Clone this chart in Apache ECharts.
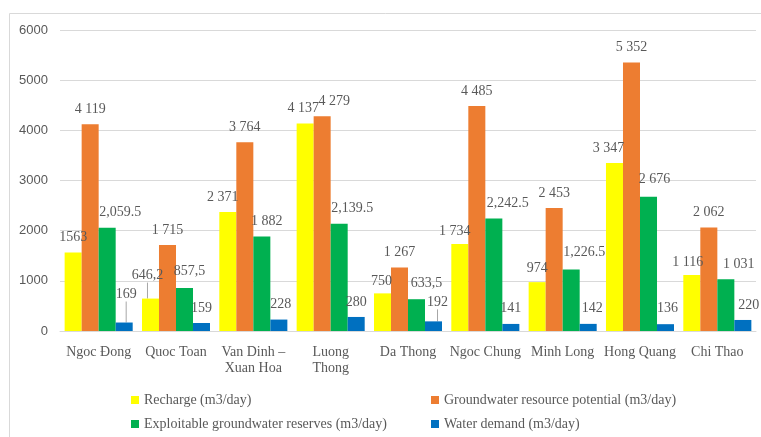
<!DOCTYPE html>
<html>
<head>
<meta charset="utf-8">
<script src="https://cdn.jsdelivr.net/npm/echarts@6/dist/echarts.min.js"></script>
<style>
  html, body { margin: 0; padding: 0; background: #fff; }
  #chart { width: 761px; height: 437px; }
</style>
</head>
<body>
<div id="chart"></div>
<script>
// categories and values
const communes = ['Ngoc Đong', 'Quoc Toan', 'Van Dinh –\nXuan Hoa', 'Luong\nThong', 'Da Thong',
  'Ngoc Chung', 'Minh Long', 'Hong Quang', 'Chi Thao'];
const seriesNames = ['Recharge (m3/day)', 'Groundwater resource potential (m3/day)',
  'Exploitable groundwater reserves (m3/day)', 'Water demand (m3/day)'];

const recharge    = [1563, 646.2, 2371, 4137, 750, 1734, 974, 3347, 1116];
const potential   = [4119, 1715, 3764, 4279, 1267, 4485, 2453, 5352, 2062];
const exploitable = [2059.5, 857.5, 1882, 2139.5, 633.5, 2242.5, 1226.5, 2676, 1031];
const demand      = [169, 159, 228, 280, 192, 141, 142, 136, 220];

// label texts as printed (mixed number formats in the source)
const rechargeText    = ['1563', '646,2', '2 371', '4 137', '750', '1 734', '974', '3 347', '1 116'];
const potentialText   = ['4 119', '1 715', '3 764', '4 279', '1 267', '4 485', '2 453', '5 352', '2 062'];
const exploitableText = ['2,059.5', '857,5', '1 882', '2,139.5', '633,5', '2,242.5', '1,226.5', '2 676', '1 031'];
const demandText      = ['169', '159', '228', '280', '192', '141', '142', '136', '220'];

const yTicks = [0, 1000, 2000, 3000, 4000, 5000, 6000];

// nudges of the data labels (dx, dy) like in the picture
const labelNudge = [
  [[0,0],[-3,-8],[-5,0],[-2,0],[-1,3],[-5,2],[0,1],[-6,0],[-4,2]],
  [[0,0],[0,0],[0,0],[12,0],[0,0],[0,0],[0,0],[0,0],[0,0]],
  [[13,0],[5,-2],[5,0],[13,0],[10,-1],[14,0],[13,-2],[6,-2],[13,0]],
  [[2,-13],[0,0],[2,0],[0,0],[4,-4],[0,-1],[4,-1],[2,-1],[6,0]]
];
const withLeader = [[1], [], [], [0, 4]];

const colors = ['#FFFF00', '#ED7D31', '#00B050', '#0070C0'];
const serif = '"Liberation Serif", "Times New Roman", serif';

function makeSeries(i, values, texts) {
  return {
    name: seriesNames[i],
    type: 'bar',
    barGap: 0,
    barCategoryGap: '12%',
    itemStyle: { color: colors[i] },
    data: values.map(function (v, j) {
      let item = { value: v };
      if (withLeader[i].indexOf(j) > -1) {
        item.labelLine = { show: true };
      }
      return item;
    }),
    label: {
      show: true,
      position: 'top',
      distance: 8,
      fontFamily: serif,
      fontSize: 14,
      color: '#595959',
      formatter: function (p) { return texts[p.dataIndex]; }
    },
    labelLine: { show: false, lineStyle: { color: '#a6a6a6', width: 1 } },
    labelLayout: function (p) {
      let n = labelNudge[i][p.dataIndex];
      return { dx: n[0], dy: n[1] };
    }
  };
}

// one legend per entry, laid out in two columns
function makeLegend(i, left, top) {
  return {
    data: [seriesNames[i]],
    left: left, top: top,
    icon: 'rect', itemWidth: 8, itemHeight: 8, itemGap: 0,
    padding: 0,
    textStyle: { fontFamily: serif, fontSize: 14, color: '#595959' }
  };
}

let myChart = echarts.init(document.getElementById('chart'));

let option = {
  animation: false,
  color: colors,
  graphic: [{
    type: 'rect',
    shape: { x: 9.5, y: 13.5, width: 800, height: 500 },
    style: { fill: 'none', stroke: '#d9d9d9', lineWidth: 1 },
    silent: true
  }],
  grid: { left: 60, right: 5, top: 30, bottom: 106 },
  legend: [
    makeLegend(0, 131, 393),
    makeLegend(1, 431, 393),
    makeLegend(2, 131, 417),
    makeLegend(3, 431, 417)
  ],
  xAxis: {
    type: 'category',
    data: communes,
    axisTick: { show: false },
    axisLine: { lineStyle: { color: '#d9d9d9' } },
    axisLabel: {
      interval: 0,
      margin: 13,
      fontFamily: serif,
      fontSize: 14,
      lineHeight: 16,
      color: '#595959'
    }
  },
  yAxis: {
    type: 'value',
    min: yTicks[0],
    max: yTicks[yTicks.length - 1],
    interval: 1000,
    axisLine: { show: false },
    axisTick: { show: false },
    splitLine: { lineStyle: { color: '#d9d9d9' } },
    axisLabel: {
      margin: 12,
      fontFamily: '"Liberation Sans", Arial, sans-serif',
      fontSize: 13,
      color: '#595959',
      formatter: function (v) { return String(v); }
    }
  },
  series: [
    makeSeries(0, recharge, rechargeText),
    makeSeries(1, potential, potentialText),
    makeSeries(2, exploitable, exploitableText),
    makeSeries(3, demand, demandText)
  ]
};

myChart.setOption(option);
</script>
</body>
</html>
